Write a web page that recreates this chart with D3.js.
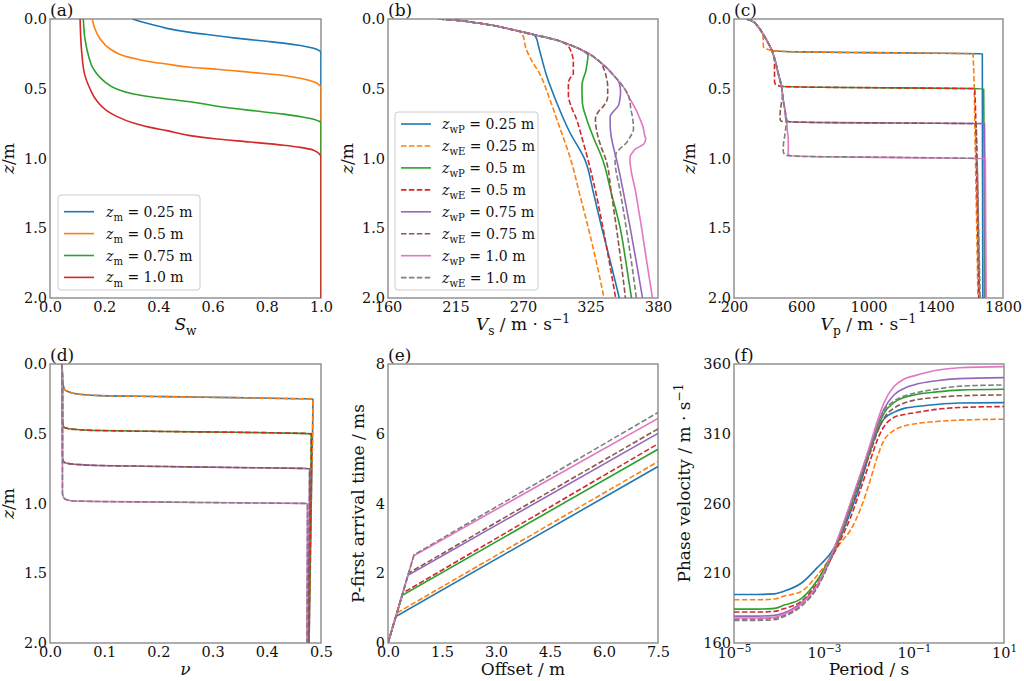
<!DOCTYPE html>
<html><head><meta charset="utf-8">
<script src="https://cdn.jsdelivr.net/npm/d3@7"></script>
<style>
body{margin:0;background:#fff;}
svg{display:block;font-family:"DejaVu Serif",serif;}
</style></head><body>
<svg id="chart" width="1024" height="681"></svg>
<script>
// ---------- tick values ----------
const depthTicks = [0, 0.5, 1.0, 1.5, 2.0];
const swTicks = [0, 0.2, 0.4, 0.6, 0.8, 1.0];
const vsTicks = [160, 215, 270, 325, 380];
const vpTicks = [200, 600, 1000, 1400, 1800];
const nuTicks = [0, 0.1, 0.2, 0.3, 0.4, 0.5];
const offsetTicks = [0, 1.5, 3.0, 4.5, 6.0, 7.5];
const timeTicks = [0, 2, 4, 6, 8];
const periodTickExps = [-5, -3, -1, 1];
const phaseTicks = [160, 210, 260, 310, 360];

// ---------- legend labels ----------
const depthLabels = ['0.25', '0.5', '0.75', '1.0'];

// ---------- (a) saturation [Sw, z] ----------
const sw025 = [[0.305,0],[0.34,0.022],[0.369,0.036],[0.431,0.067],[0.517,0.096],[0.616,0.12],[0.677,0.135],[0.739,0.148],[0.800,0.16],[0.862,0.173],[0.924,0.19],[0.973,0.21],[0.995,0.228],[1.0,0.24],[1.0,2.0]];
const sw05 = [[0.156,0],[0.166,0.072],[0.185,0.143],[0.222,0.215],[0.271,0.263],[0.320,0.287],[0.369,0.306],[0.431,0.323],[0.517,0.346],[0.616,0.36],[0.739,0.382],[0.862,0.405],[0.924,0.425],[0.973,0.45],[0.995,0.475],[1.0,0.49],[1.0,2.0]];
const sw075 = [[0.123,0],[0.129,0.143],[0.142,0.263],[0.160,0.358],[0.197,0.442],[0.246,0.502],[0.308,0.538],[0.369,0.557],[0.431,0.573],[0.517,0.593],[0.616,0.625],[0.739,0.655],[0.862,0.682],[0.924,0.70],[0.973,0.718],[0.995,0.735],[1.0,0.745],[1.0,2.0]];
const sw10 = [[0.111,0],[0.117,0.239],[0.129,0.406],[0.148,0.502],[0.172,0.585],[0.209,0.657],[0.246,0.698],[0.308,0.746],[0.369,0.777],[0.431,0.80],[0.517,0.836],[0.616,0.86],[0.739,0.882],[0.862,0.905],[0.924,0.92],[0.973,0.94],[0.995,0.97],[1.0,0.99],[1.0,2.0]];

// ---------- (b) Vs [Vs, z] ----------
const vsP025 = [[201,0],[215,0.008],[230,0.025],[245,0.045],[258,0.07],[268,0.09],[279,0.113],[281,0.14],[282.5,0.19],[284,0.24],[289,0.40],[297.5,0.6],[308,0.81],[320.5,1.01],[327.5,1.25],[334,1.49],[341.5,1.75],[348.5,2.0]];
const vsE025 = [[201,0],[215,0.008],[230,0.025],[245,0.045],[258,0.07],[267,0.09],[270,0.12],[271,0.15],[272,0.2],[276,0.28],[284,0.40],[292,0.58],[300,0.78],[309,1.01],[316,1.25],[323,1.49],[330,1.75],[336,2.0]];
const vsP05 = [[201,0],[215,0.008],[230,0.025],[245,0.045],[258,0.07],[268,0.09],[280,0.115],[295,0.145],[308,0.185],[320,0.235],[323,0.26],[322,0.33],[321,0.38],[319,0.43],[318,0.48],[318.4,0.6],[322,0.72],[327,0.84],[335,1.01],[342,1.25],[349,1.49],[354,1.75],[358.4,2.0]];
const vsE05 = [[201,0],[215,0.008],[230,0.025],[245,0.045],[258,0.07],[268,0.09],[280,0.115],[295,0.145],[305,0.18],[309,0.23],[311,0.31],[311,0.39],[308,0.43],[307,0.46],[307,0.55],[309,0.62],[313.7,0.72],[318,0.85],[323,1.01],[329.5,1.25],[335,1.49],[340.5,1.75],[345.5,2.0]];
const vsP075 = [[201,0],[215,0.008],[230,0.025],[245,0.045],[258,0.07],[268,0.09],[280,0.115],[295,0.145],[308,0.185],[322,0.24],[333,0.31],[344,0.405],[348.5,0.46],[349.5,0.52],[349,0.57],[347.8,0.62],[343,0.67],[341,0.7],[341,0.75],[342,0.85],[344,0.93],[346.3,1.01],[352,1.25],[357.2,1.49],[362.5,1.75],[367.4,2.0]];
const vsE075 = [[201,0],[215,0.008],[230,0.025],[245,0.045],[258,0.07],[268,0.09],[280,0.115],[295,0.145],[308,0.185],[322,0.24],[333,0.31],[336,0.36],[338,0.42],[339,0.48],[339,0.56],[336,0.62],[331,0.67],[329,0.72],[330,0.8],[333,0.9],[337.6,1.01],[342,1.25],[346,1.49],[350,1.75],[353.5,2.0]];
const vsP10 = [[201,0],[215,0.008],[230,0.025],[245,0.045],[258,0.07],[268,0.09],[280,0.115],[295,0.145],[308,0.185],[322,0.24],[333,0.31],[344,0.405],[352,0.49],[357,0.57],[362,0.65],[365.5,0.72],[368,0.78],[369,0.83],[370,0.86],[368,0.9],[362,0.93],[359,0.96],[357.5,0.98],[357.2,1.01],[362,1.25],[366.5,1.49],[371,1.75],[375.5,2.0]];
const vsE10 = [[201,0],[215,0.008],[230,0.025],[245,0.045],[258,0.07],[268,0.09],[280,0.115],[295,0.145],[308,0.185],[322,0.24],[333,0.31],[344,0.405],[352,0.49],[356,0.55],[358,0.65],[359.5,0.72],[360,0.79],[357,0.85],[354,0.89],[349,0.93],[346,0.96],[345,1.01],[349.5,1.25],[354,1.49],[358.5,1.75],[362.4,2.0]];

// ---------- (c) Vp [Vp, z] ----------
const vpP025 = [[275,0],[305,0.012],[335,0.043],[364,0.091],[394,0.151],[418,0.205],[430,0.226],[600,0.236],[1000,0.241],[1400,0.245],[1660,0.249],[1677,0.25],[1678,1.0],[1680,2.0]];
const vpE025 = [[275,0],[305,0.012],[335,0.043],[364,0.091],[372,0.11],[374,0.15],[375,0.2],[390,0.212],[430,0.226],[600,0.236],[1000,0.241],[1400,0.245],[1622,0.25],[1636,1.0],[1651,2.0]];
const vpP05 = [[275,0],[305,0.012],[335,0.043],[364,0.091],[394,0.151],[424,0.222],[444,0.294],[463,0.39],[475,0.44],[480,0.47],[490,0.483],[700,0.489],[1200,0.494],[1600,0.498],[1685,0.5],[1688,1.0],[1690,2.0]];
const vpE05 = [[275,0],[305,0.012],[335,0.043],[364,0.091],[394,0.151],[424,0.222],[437,0.27],[441,0.32],[441,0.37],[441,0.45],[450,0.472],[490,0.483],[700,0.489],[1200,0.494],[1632,0.5],[1645,1.2],[1656,2.0]];
const vpP075 = [[275,0],[305,0.012],[335,0.043],[364,0.091],[394,0.151],[424,0.222],[444,0.294],[463,0.39],[483,0.486],[493,0.581],[503,0.653],[506,0.7],[510,0.725],[530,0.737],[800,0.743],[1200,0.746],[1690,0.75],[1693,1.3],[1695,2.0]];
const vpE075 = [[275,0],[305,0.012],[335,0.043],[364,0.091],[394,0.151],[424,0.222],[444,0.294],[463,0.39],[483,0.486],[488,0.55],[480,0.62],[475,0.66],[474,0.715],[480,0.733],[530,0.737],[800,0.743],[1200,0.746],[1640,0.75],[1650,1.3],[1660,2.0]];
const vpP10 = [[275,0],[305,0.012],[335,0.043],[364,0.091],[394,0.151],[424,0.222],[444,0.294],[463,0.39],[483,0.486],[493,0.581],[503,0.653],[513,0.725],[517,0.797],[523,0.868],[523,0.94],[521,0.965],[530,0.978],[700,0.987],[1200,0.994],[1695,1.0],[1697,1.5],[1700,2.0]];
const vpE10 = [[275,0],[305,0.012],[335,0.043],[364,0.091],[394,0.151],[424,0.222],[444,0.294],[463,0.39],[483,0.486],[493,0.581],[503,0.653],[513,0.725],[508,0.78],[500,0.85],[494,0.9],[493,0.95],[505,0.975],[600,0.985],[1000,0.99],[1400,0.995],[1645,1.0],[1655,1.5],[1664,2.0]];

// ---------- (d) Poisson ratio [nu, z] ----------
const nu025 = [[0.0216,0],[0.0228,0.05],[0.023,0.13],[0.025,0.16],[0.0277,0.186],[0.035,0.2],[0.043,0.21],[0.092,0.227],[0.215,0.234],[0.339,0.241],[0.462,0.249],[0.485,0.25],[0.482,1.0],[0.478,2.0]];
const nu05 = [[0.0216,0],[0.0228,0.1],[0.023,0.4],[0.025,0.449],[0.031,0.461],[0.05,0.47],[0.092,0.477],[0.215,0.484],[0.339,0.489],[0.46,0.497],[0.482,0.5],[0.477,2.0]];
const nu075 = [[0.0216,0],[0.0228,0.1],[0.023,0.66],[0.025,0.7],[0.031,0.711],[0.05,0.72],[0.092,0.728],[0.215,0.735],[0.339,0.742],[0.46,0.748],[0.479,0.75],[0.476,2.0]];
const nu10 = [[0.0216,0],[0.0228,0.1],[0.023,0.926],[0.026,0.962],[0.037,0.979],[0.092,0.986],[0.215,0.99],[0.339,0.995],[0.46,0.999],[0.475,1.0],[0.474,2.0]];

// ---------- (e) first arrivals [offset, time] ----------
const tP025 = [[0,0],[0.218,0.76],[7.5,5.06]];
const tE025 = [[0,0],[0.245,0.86],[7.5,5.20]];
const tP05 = [[0,0],[0.397,1.365],[7.5,5.556]];
const tE05 = [[0,0],[0.409,1.432],[7.5,5.71]];
const tP075 = [[0,0],[0.554,1.94],[7.5,6.01]];
const tE075 = [[0,0],[0.573,2.005],[7.5,6.14]];
const tP10 = [[0,0],[0.713,2.50],[7.5,6.44]];
const tE10 = [[0,0],[0.723,2.53],[7.5,6.61]];

// ---------- (f) dispersion: log10 period and phase velocity ----------
const periodExp = [-5,-4.5,-4.1,-3.9,-3.5,-3.15,-2.85,-2.63,-2.41,-2.19,-1.96,-1.81,-1.67,-1.44,-1.22,-1.0,-0.5,0,1];
const cP025 = [194.8,194.8,195.2,197,203,214,224.5,236.5,254,274,299,312,320.5,325.5,328.2,329.3,331,332,332.3];
const cE025 = [191,191,191.5,193.5,197,208.5,221.5,232,241,256,278,294,305,312.5,315.5,317,318.8,319.8,320.4];
const cP05 = [184.3,184.3,184.8,187,192,205,222.5,238.5,257.5,278,299.5,314,324.5,332.5,336,337.8,340,341.3,341.9];
const cE05 = [182.2,182.2,182.7,184.5,190,203,220,234,250,270,292,306,315,321.8,323.8,325,327.5,328.8,329.5];
const cP075 = [179.3,179.3,179.8,181.5,189,201.5,222,240,260,280.5,302,316.5,327.5,338,342.5,345,348,349.5,350.2];
const cE075 = [177.2,177.2,177.7,179.5,187.5,200,220,236.5,255.5,276.5,297.5,311.5,321,328.5,332,334,336,337.2,337.8];
const cP10 = [177.9,177.9,178.4,180.5,188,201.5,222,240,260.5,281,304,319.5,332,344,349.3,351.5,355.5,357.3,358.1];
const cE10 = [176.2,176.2,176.7,178.8,186.5,199.5,220.5,238,258,279,300.5,315,326,333.5,337,339,342,344,345];

// ================= drawing =================
const COL = ['#1f77b4','#ff7f0e','#2ca02c','#d62728','#9467bd','#8c564b','#e377c2','#7f7f7f'];
const svg = d3.select('#chart');
const TICK_FS = 14.5, LABEL_FS = 17, LEG_FS = 14, TAG_FS = 17;

function rich(textSel, parts, fs) {
  let shift = 0;
  parts.forEach(p => {
    const ts = textSel.append('tspan').text(p.t);
    if (p.i) ts.attr('font-style', 'italic');
    let target = 0, size = fs;
    if (p.sub) { target = fs * 0.3; size = fs * 0.72; }
    if (p.sup) { target = -fs * 0.42; size = fs * 0.72; }
    ts.attr('font-size', size).attr('dy', target - shift);
    shift = target;
  });
}

let clipId = 0;
function panel(o) {
  const g = svg.append('g');
  const x = o.x.range([o.x0, o.x1]);
  const y = o.y.range([o.y0, o.y1]);
  const id = 'clip' + (clipId++);
  g.append('clipPath').attr('id', id).append('rect')
    .attr('x', o.x0).attr('y', o.y0).attr('width', o.x1 - o.x0).attr('height', o.y1 - o.y0);
  g.append('rect').attr('x', o.x0).attr('y', o.y0).attr('width', o.x1 - o.x0).attr('height', o.y1 - o.y0)
    .attr('fill', 'none').attr('stroke', '#8a8a8a').attr('stroke-width', 1.4);
  const lg = g.append('g').attr('clip-path', `url(#${id})`);
  o.series.forEach(s => {
    lg.append('path')
      .attr('d', d3.line().x(d => x(d[0])).y(d => y(d[1])).curve(o.curve)(s.data))
      .attr('fill', 'none').attr('stroke', s.color).attr('stroke-width', 1.6)
      .attr('stroke-dasharray', s.dash ? '5.5,2.4' : null);
  });
  // x axis
  const xa = g.append('g').attr('transform', `translate(0,${o.y1})`)
    .call(d3.axisBottom(x).tickValues(o.xticks).tickSize(0).tickPadding(4).tickFormat(o.xfmt || null));
  xa.select('.domain').remove();
  xa.selectAll('text').attr('font-size', TICK_FS).attr('font-family', '"DejaVu Serif",serif').attr('fill', '#111');
  if (o.xsup) {
    xa.selectAll('text').each(function(d) {
      const t = d3.select(this);
      t.text('').attr('dy', null).attr('y', 4 + 0.74 * TICK_FS);
      rich(t, [{t: '10'}, {t: o.xsup(d), sup: 1}], TICK_FS);
    });
  }
  const ya = g.append('g').attr('transform', `translate(${o.x0},0)`)
    .call(d3.axisLeft(y).tickValues(o.yticks).tickSize(0).tickPadding(3).tickFormat(o.yfmt || null));
  ya.select('.domain').remove();
  ya.selectAll('text').attr('font-size', TICK_FS).attr('font-family', '"DejaVu Serif",serif').attr('fill', '#111');
  // labels
  const xl = g.append('text').attr('x', (o.x0 + o.x1) / 2).attr('y', o.y1 + 32)
    .attr('text-anchor', 'middle').attr('font-size', LABEL_FS).attr('fill', '#111');
  rich(xl, o.xlabel, LABEL_FS);
  const ycy = o.ylabelY || (o.y0 + o.y1) / 2;
  const yl = g.append('text').attr('transform', `translate(${o.ylabelX},${ycy}) rotate(-90)`)
    .attr('text-anchor', 'middle').attr('dy', '0.35em').attr('font-size', LABEL_FS).attr('fill', '#111');
  rich(yl, o.ylabel, LABEL_FS);
  g.append('text').attr('x', o.x0).attr('y', o.y0 - 3).attr('font-size', TAG_FS).attr('fill', '#111').text(o.tag);
  // legend
  if (o.legend) {
    const L = o.legend;
    const lgd = g.append('g');
    lgd.append('rect').attr('x', L.x).attr('y', L.y).attr('width', L.w).attr('height', L.h)
      .attr('rx', 3).attr('fill', 'rgba(255,255,255,0.85)').attr('stroke', '#cccccc').attr('stroke-width', 1);
    L.items.forEach((it, i) => {
      const ry = L.y + L.first + i * L.step;
      lgd.append('line').attr('x1', L.x + 6).attr('x2', L.x + 36).attr('y1', ry).attr('y2', ry)
        .attr('stroke', it.color).attr('stroke-width', 1.6).attr('stroke-dasharray', it.dash ? '5.5,2.4' : null);
      const t = lgd.append('text').attr('x', L.x + L.textDx).attr('y', ry + 5).attr('font-size', LEG_FS).attr('fill', '#111');
      rich(t, it.parts, LEG_FS);
    });
  }
}

const zLabel = [{t: 'z', i: 1}, {t: '/m'}];
const fmt1 = d3.format('.1f');

// (a)
const swSeries = [sw025, sw05, sw075, sw10];
panel({
  tag: '(a)', x0: 50, x1: 321, y0: 19, y1: 298,
  x: d3.scaleLinear().domain([0, 1]), y: d3.scaleLinear().domain([0, 2]),
  xticks: swTicks, yticks: depthTicks, xfmt: fmt1, yfmt: fmt1,
  curve: d3.curveMonotoneY,
  series: swSeries.map((d, i) => ({data: d, color: COL[i]})),
  xlabel: [{t: 'S', i: 1}, {t: 'w', sub: 1}], ylabel: zLabel, ylabelX: 14,
  legend: {x: 58, y: 195, w: 142, h: 95, first: 16.7, step: 21.9, textDx: 48,
    items: depthLabels.map((l, i) => ({color: COL[i], parts: [{t: 'z', i: 1}, {t: 'm', sub: 1}, {t: ' = ' + l + ' m'}]}))}
});

// (b)
const vsSeries = [vsP025, vsE025, vsP05, vsE05, vsP075, vsE075, vsP10, vsE10];
const pairLegend = [];
depthLabels.forEach((l, i) => {
  pairLegend.push({color: COL[2 * i], dash: false, parts: [{t: 'z', i: 1}, {t: 'wP', sub: 1}, {t: ' = ' + l + ' m'}]});
  pairLegend.push({color: COL[2 * i + 1], dash: true, parts: [{t: 'z', i: 1}, {t: 'wE', sub: 1}, {t: ' = ' + l + ' m'}]});
});
panel({
  tag: '(b)', x0: 388, x1: 658, y0: 19, y1: 298,
  x: d3.scaleLinear().domain([160, 380]), y: d3.scaleLinear().domain([0, 2]),
  xticks: vsTicks, yticks: depthTicks, xfmt: d3.format('d'), yfmt: fmt1,
  curve: d3.curveMonotoneY,
  series: vsSeries.map((d, i) => ({data: d, color: COL[i], dash: i % 2 === 1})),
  xlabel: [{t: 'V', i: 1}, {t: 's', sub: 1}, {t: ' / m · s'}, {t: '−1', sup: 1}], ylabel: zLabel, ylabelX: 353,
  legend: {x: 395, y: 112, w: 143, h: 178, first: 12, step: 21.95, textDx: 47, items: pairLegend}
});

// (c)
const vpSeries = [vpP025, vpE025, vpP05, vpE05, vpP075, vpE075, vpP10, vpE10];
panel({
  tag: '(c)', x0: 734, x1: 1003, y0: 19, y1: 298,
  x: d3.scaleLinear().domain([200, 1800]), y: d3.scaleLinear().domain([0, 2]),
  xticks: vpTicks, yticks: depthTicks, xfmt: d3.format('d'), yfmt: fmt1,
  curve: d3.curveMonotoneY,
  series: vpSeries.map((d, i) => ({data: d, color: COL[i], dash: i % 2 === 1})),
  xlabel: [{t: 'V', i: 1}, {t: 'p', sub: 1}, {t: ' / m · s'}, {t: '−1', sup: 1}], ylabel: zLabel, ylabelX: 695
});

// (d)
const nuSeries = [nu025, nu025, nu05, nu05, nu075, nu075, nu10, nu10];
panel({
  tag: '(d)', x0: 50, x1: 321, y0: 364, y1: 643,
  x: d3.scaleLinear().domain([0, 0.5]), y: d3.scaleLinear().domain([0, 2]),
  xticks: nuTicks, yticks: depthTicks, xfmt: fmt1, yfmt: fmt1,
  curve: d3.curveMonotoneY,
  series: nuSeries.map((d, i) => ({data: d, color: COL[i], dash: i % 2 === 1})),
  xlabel: [{t: 'ν', i: 1}], ylabel: zLabel, ylabelX: 14
});

// (e)
const tSeries = [tP025, tE025, tP05, tE05, tP075, tE075, tP10, tE10];
panel({
  tag: '(e)', x0: 388, x1: 658, y0: 364, y1: 643,
  x: d3.scaleLinear().domain([0, 7.5]), y: d3.scaleLinear().domain([8, 0]),
  xticks: offsetTicks, yticks: timeTicks, xfmt: fmt1, yfmt: d3.format('d'),
  curve: d3.curveLinear,
  series: tSeries.map((d, i) => ({data: d, color: COL[i], dash: i % 2 === 1})),
  xlabel: [{t: 'Offset / m'}], ylabel: [{t: 'P-first arrival time / ms'}], ylabelX: 364
});

// (f)
const cSeries = [cP025, cE025, cP05, cE05, cP075, cE075, cP10, cE10];
panel({
  tag: '(f)', x0: 734, x1: 1004, y0: 364, y1: 643,
  x: d3.scaleLog().domain([1e-5, 10]), y: d3.scaleLinear().domain([360, 160]),
  xticks: periodTickExps.map(e => Math.pow(10, e)), yticks: phaseTicks, yfmt: d3.format('d'),
  xsup: d => String(Math.round(Math.log10(d))).replace('-', '−'),
  curve: d3.curveMonotoneX,
  series: cSeries.map((vals, i) => ({data: vals.map((v, k) => [Math.pow(10, periodExp[k]), v]), color: COL[i], dash: i % 2 === 1})),
  xlabel: [{t: 'Period / s'}], ylabel: [{t: 'Phase velocity / m · s'}, {t: '−1', sup: 1}], ylabelX: 690, ylabelY: 483
});
</script>
</body></html>
